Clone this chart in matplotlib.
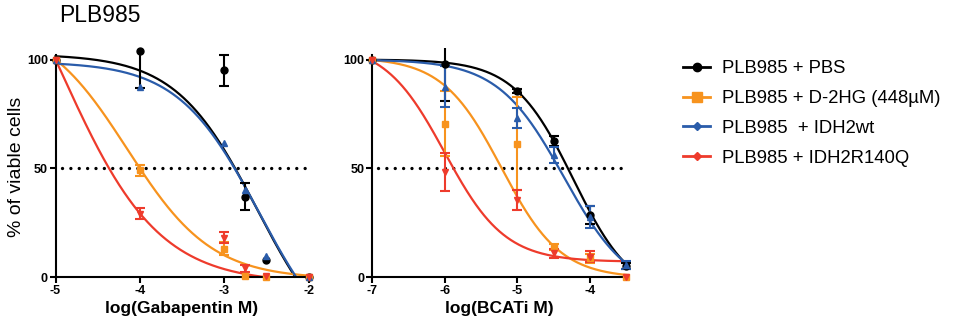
import numpy as np
import matplotlib
matplotlib.use('Agg')
import matplotlib.pyplot as plt
from matplotlib.lines import Line2D

plt.rcParams['font.family'] = ['Liberation Sans', 'DejaVu Sans']

#%% datos

labels = ['PLB985 + PBS', 'PLB985 + D-2HG (448µM)', 'PLB985  + IDH2wt', 'PLB985 + IDH2R140Q']
colors = ['#000000', '#F7931E', '#2A5CAA', '#EE3B2C']
markers = ['o', 's', '^', 'v']
msizes = [5, 5, 5, 5]

# log(Gabapentin M)
gaba_x = [-5, -4, -3, -2.75, -2.5, -2]
gaba_pbs = [100, 104, 95, 37, 8, 0]
gaba_pbs_err = [0, 17, 7, 6, 0, 0]
gaba_d2hg = [100, 49, 13, 0.3, 0, 0]
gaba_d2hg_err = [0, 2.5, 3, 0, 0, 0]
gaba_wt = [100, 87.5, 61.5, 40, 9.5, 0]
gaba_wt_err = [0, 0, 0, 0, 0, 0]
gaba_r140q = [100, 29, 18, 4, 0.3, 0]
gaba_r140q_err = [0, 2.5, 2.5, 1.5, 0, 0]

# log(BCATi M)
bcat_x = [-7, -6, -5, -4.5, -4, -3.5]
bcat_pbs = [100, 98, 85.5, 62.5, 28.5, 5]
bcat_pbs_err = [0, 17, 1, 2.2, 4, 1.5]
bcat_d2hg = [100, 70.5, 61.3, 13.9, 8.6, 0]
bcat_d2hg_err = [0, 15, 21.4, 1.5, 2, 0]
bcat_wt = [100, 87.5, 73.3, 56, 27.7, 5.5]
bcat_wt_err = [0, 9.5, 4.6, 3.8, 5, 2]
bcat_r140q = [100, 48.3, 35.3, 10.9, 9.3, 0]
bcat_r140q_err = [0, 8.7, 4.7, 2, 2.5, 0]

# ajuste: bottom, top, logIC50, hill
gaba_fit = [(-40, 102.5, -2.611, 0.9),
            (-1, 118.5, -4.148, 0.866),
            (-40, 99, -2.584, 0.9),
            (-3, 192.7, -4.939, 0.75)]
bcat_fit = [(-10, 100, -4.23, 1.06),
            (-0.5, 101, -5.22, 1.07),
            (-8, 100, -4.36, 0.955),
            (7, 107.5, -6.0, 1.05)]


def funcion(x, bottom, top, logic50, hill):
    return bottom + (top - bottom) / (1 + 10 ** ((x - logic50) * hill))


def panel(ax, x, ys, errs, fits, xlabel):
    x = np.asarray(x, dtype=float)
    for y, e, p, c, m, s in zip(ys, errs, fits, colors, markers, msizes):
        y = np.asarray(y, dtype=float)
        e = np.asarray(e, dtype=float)
        xx = np.linspace(x[0], x[-1], 600)
        yy = funcion(xx, *p)
        yy = np.where(yy < 0, np.nan, yy)
        ax.plot(xx, yy, color=c, lw=1.6, zorder=2)
        k = e > 0
        ax.errorbar(x[k], y[k], yerr=e[k], fmt='none', ecolor=c,
                    elinewidth=1.5, capsize=3.5, capthick=1.5, zorder=3)
        ax.plot(x, y, ls='none', marker=m, ms=s, color=c,
                clip_on=False, zorder=4)

    ax.plot([x[0] + 0.08, x[-1] - 0.04], [50, 50], color='k', lw=2.4,
            ls=(0, (0.01, 2.5)), dash_capstyle='round', zorder=1)

    ax.set_xlim(x[0] - 0.1, x[-1] + 0.1)
    ax.set_ylim(-4, 105.5)
    for s in ['top', 'right']:
        ax.spines[s].set_visible(False)
    ax.spines['left'].set_position(('data', x[0]))
    ax.spines['bottom'].set_position(('data', 0))
    ax.spines['left'].set_bounds(0, 102)
    ax.spines['bottom'].set_bounds(x[0], x[-1])
    for s in ['left', 'bottom']:
        ax.spines[s].set_linewidth(1.5)

    xt = list(range(int(np.ceil(x[0])), int(np.floor(x[-1])) + 1))
    ax.set_xticks(xt)
    ax.set_xticklabels([str(t) for t in xt], fontweight='bold')
    ax.set_yticks([0, 50, 100])
    ax.set_yticklabels(['0', '50', '100'], fontweight='bold')
    ax.tick_params(direction='out', length=4, width=1.5, labelsize=9, pad=1.5)
    ax.set_xlabel(xlabel, fontsize=12.5, fontweight='bold', labelpad=3)


fig = plt.figure(figsize=(9.62, 3.25), dpi=100)
ax1 = fig.add_axes([0.04893, 0.1209, 0.28053, 0.7328])
ax2 = fig.add_axes([0.37914, 0.1209, 0.27951, 0.7328])

panel(ax1, gaba_x,
      [gaba_pbs, gaba_d2hg, gaba_wt, gaba_r140q],
      [gaba_pbs_err, gaba_d2hg_err, gaba_wt_err, gaba_r140q_err],
      gaba_fit, 'log(Gabapentin M)')
panel(ax2, bcat_x,
      [bcat_pbs, bcat_d2hg, bcat_wt, bcat_r140q],
      [bcat_pbs_err, bcat_d2hg_err, bcat_wt_err, bcat_r140q_err],
      bcat_fit, 'log(BCATi M)')

fig.text(17 / 962, 1 - 167 / 325, '% of viable cells', rotation=90,
         fontsize=14, ha='center', va='center')
fig.text(59 / 962, 1 - 16 / 325, 'PLB985', fontsize=16.5, va='center')

#leyenda
leg_ms = [6, 7, 4, 4]
leg_mk = ['o', 's', 'D', 'D']
handles = [Line2D([], [], color=c, lw=2, marker=m, ms=s)
           for c, m, s in zip(colors, leg_mk, leg_ms)]
fig.legend(handles, labels, loc='upper left', bbox_to_anchor=(0.702, 0.838),
           frameon=False, fontsize=13.3, handlelength=1.5,
           handletextpad=0.65, labelspacing=0.7, borderaxespad=0)

plt.savefig('out.png', dpi=100)
